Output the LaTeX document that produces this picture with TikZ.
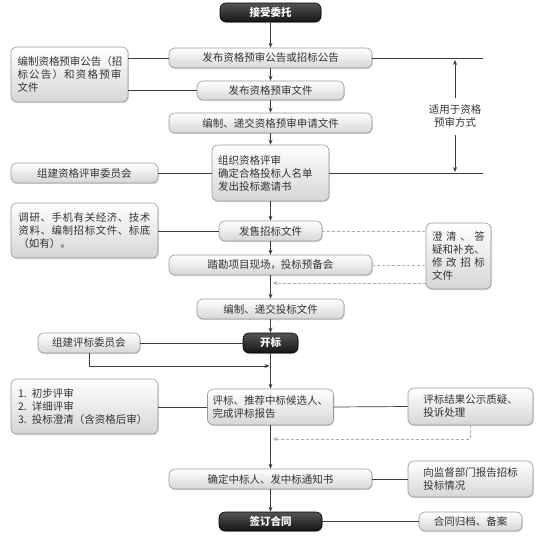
\documentclass[tikz,border=0pt]{standalone}
\usepackage{fontspec}
\setmainfont{Noto Sans CJK SC}
\usetikzlibrary{shadows,arrows.meta}
\definecolor{txt}{HTML}{333333}
\definecolor{bordergray}{HTML}{9A9A9A}
\definecolor{linegray}{HTML}{3C3C3C}
\definecolor{dashgray}{HTML}{B0B0B0}
\definecolor{boxbot}{HTML}{D6D6D6}
\definecolor{darktop}{HTML}{555555}
\definecolor{darkbot}{HTML}{151515}
\def\spreadaux#1{\ifx#1\relax\else#1\hfil\expandafter\spreadaux\fi}
\newcommand\jl[2]{\makebox[#1][s]{\spreadaux#2\relax\unskip}}
\tikzset{
  box/.style={draw=bordergray, line width=0.6pt, rounded corners=6pt,
    top color=white, bottom color=boxbot, text=txt,
    font=\fontsize{10.5}{13}\selectfont, inner sep=0pt, align=center,
    drop shadow={shadow xshift=0.8pt, shadow yshift=-1.2pt, opacity=0.3, fill=gray}},
  dark/.style={draw=black, line width=0.6pt, rounded corners=6pt,
    top color=darktop, bottom color=darkbot, text=white,
    font=\fontsize{10.5}{13}\selectfont\bfseries, inner sep=0pt,
    drop shadow={shadow xshift=0.8pt, shadow yshift=-1.2pt, opacity=0.3, fill=gray}},
  conn/.style={draw=linegray, line width=0.7pt},
  arr/.style={conn, -{Stealth[length=5pt,width=4pt]}},
  dashln/.style={draw=dashgray, line width=0.6pt, dash pattern=on 3pt off 2pt},
  dasharr/.style={dashln, -{Stealth[length=5pt,width=4pt]}},
  plain/.style={text=txt, font=\fontsize{10.5}{13}\selectfont, align=center}
}
\begin{document}
\begin{tikzpicture}[x=1pt,y=-1pt]
\useasboundingbox (0,0) rectangle (550,542);

% main column
\node[dark, minimum width=101pt, minimum height=19pt] (n1) at (270.5,12.5) {接受委托};
\node[box, minimum width=203pt, minimum height=20pt] (n2) at (270.5,58) {发布资格预审公告或招标公告};
\node[box, minimum width=147pt, minimum height=19pt] (n3) at (270.5,90.5) {发布资格预审文件};
\node[box, minimum width=203pt, minimum height=20pt] (n4) at (270.5,123) {编制、递交资格预审申请文件};
\node[box, minimum width=117pt, minimum height=56pt, text width=105pt, align=left] (n5) at (270.5,173) {组织资格评审\\确定合格投标人名单\\发出投标邀请书};
\node[box, minimum width=103pt, minimum height=20pt] (n6) at (270.5,231) {发售招标文件};
\node[box, minimum width=203pt, minimum height=20pt] (n7) at (270.5,265) {踏勘项目现场，投标预备会};
\node[box, minimum width=147pt, minimum height=20pt] (n8) at (270.5,309) {编制、递交投标文件};
\node[dark, minimum width=55pt, minimum height=20pt] (n9) at (270.5,343) {开标};
\node[box, minimum width=126pt, minimum height=36pt, text width=116pt, align=left] (n10) at (270.5,407) {评标、推荐中标候选人、\\完成评标报告};
\node[box, minimum width=203pt, minimum height=20pt] (n11) at (270.5,479) {确定中标人、发中标通知书};
\node[dark, minimum width=103pt, minimum height=19pt] (n12) at (270.5,521.5) {签订合同};

% left column
\node[box, minimum width=117pt, minimum height=55pt, align=left] (L1) at (69.5,74.5)
  {\jl{104pt}{编制资格预审公告（招}\\\jl{104pt}{标公告）和资格预审}\\文件};
\node[box, minimum width=147pt, minimum height=20pt] (L2) at (84.5,173) {组建资格评审委员会};
\node[box, minimum width=147pt, minimum height=55pt, align=left] (L3) at (84.5,230.5)
  {\jl{132pt}{调研、手机有关经济、技术}\\\jl{132pt}{资料、编制招标文件、标底}\\（如有）。};
\node[box, minimum width=102pt, minimum height=20pt] (L4) at (89,343) {组建评标委员会};
\node[box, minimum width=147pt, minimum height=55pt, text width=133pt, align=left] (L5) at (84.5,406.5)
  {1. 初步评审\\2. 详细评审\\3. 投标澄清（含资格后审）};

% right column
\node[plain, inner xsep=2pt, inner ysep=7pt] (R1) at (455,116.5) {适用于资格\\预审方式};
\node[box, minimum width=65pt, minimum height=66pt, align=left] (R2) at (458.5,256)
  {\jl{53pt}{澄清、答}\\\jl{53pt}{疑和补充、}\\\jl{53pt}{修改招标}\\文件};
\node[box, minimum width=125pt, minimum height=37pt, align=left] (R3) at (470.5,406.5) {评标结果公示质疑、\\投诉处理};
\node[box, minimum width=125pt, minimum height=36pt, align=left] (R4) at (470.5,479) {向监督部门报告招标\\投标情况};
\node[box, minimum width=103pt, minimum height=19pt] (R5) at (470.5,521.5) {合同归档、备案};

% helper coordinates
\coordinate (r1a) at (483,58);
\coordinate (r1b) at (483,173);
\coordinate (r1up) at (455,60);
\coordinate (r1dn) at (455,172);
\coordinate (j1) at (269.5,366);
\coordinate (j2) at (272.5,283);
\coordinate (j3) at (272.5,439);

% main flow arrows
\foreach \a/\b in {n1/n2,n2/n3,n3/n4,n4/n5,n5/n6,n6/n7,n7/n8,n8/n9,n9/n10,n10/n11,n11/n12}
  \draw[arr] (\a.south) -- (\b.north);

% left connectors
\draw[conn] (L1.east |- n2.west) -- (n2.west);
\draw[conn] (L1.east |- n3.west) -- (n3.west);
\draw[conn] (L2.east) -- (n5.west);
\draw[conn] (L3.east |- n6.west) -- (n6.west);
\draw[conn] (L4.east) -- (n9.west);
\draw[arr] (L4.south) |- (j1);
\draw[conn] (L5.east |- n10.west) -- (n10.west);

% right connectors
\draw[conn] (n2.east) -- (r1a);
\draw[conn] (n5.east) -- (r1b);
\draw[arr] (R1.north) -- (r1up);
\draw[arr] (R1.south) -- (r1dn);
\draw[dashln] (n6.east) -- (n6.east -| R2.west);
\draw[dashln] (n7.east) -- (n7.east -| R2.west);
\draw[dasharr] (R2.west |- j2) -- (j2);
\draw[conn] (n10.east) -- (R3.west);
\draw[dasharr] (R3.south) |- (j3);
\draw[conn] (n11.east) -- (R4.west);
\draw[conn] (n12.east) -- (R5.west);
\end{tikzpicture}
\end{document}
